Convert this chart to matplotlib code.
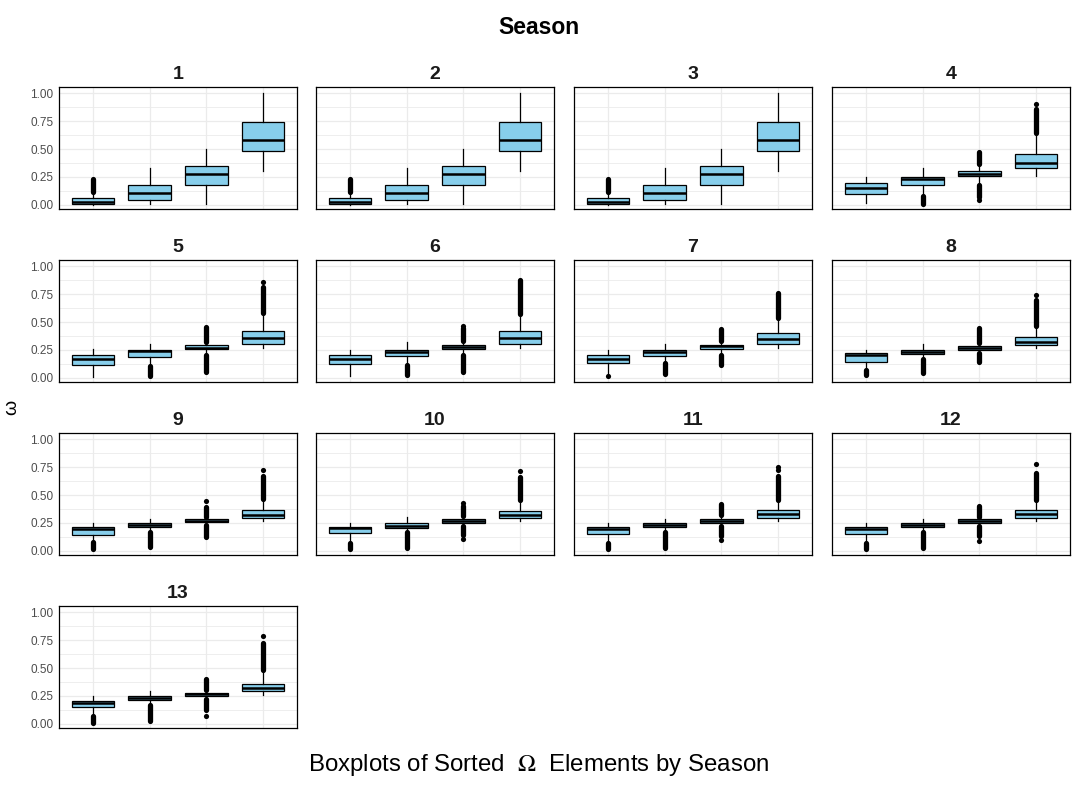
import matplotlib
matplotlib.use('Agg')
import matplotlib.pyplot as plt
from matplotlib.ticker import MultipleLocator, FormatStrFormatter

plt.rcParams['font.family'] = ['Liberation Sans', 'DejaVu Sans']
plt.rcParams['mathtext.fontset'] = 'stix'

W, H = 1078, 789

seasons = [str(i) for i in range(1, 14)]
y_ticks = [0.0, 0.25, 0.5, 0.75, 1.0]

# box stats per season, 4 sorted elements each
q1 = [
    [0.006, 0.042, 0.176, 0.482],
    [0.006, 0.042, 0.176, 0.482],
    [0.006, 0.042, 0.176, 0.482],
    [0.095, 0.176, 0.256, 0.327],
    [0.113, 0.185, 0.256, 0.300],
    [0.122, 0.193, 0.256, 0.300],
    [0.130, 0.193, 0.256, 0.300],
    [0.146, 0.211, 0.253, 0.292],
    [0.146, 0.211, 0.256, 0.292],
    [0.158, 0.208, 0.253, 0.292],
    [0.149, 0.211, 0.253, 0.292],
    [0.149, 0.211, 0.253, 0.292],
    [0.149, 0.214, 0.247, 0.292],
]
med = [
    [0.030, 0.110, 0.280, 0.583],
    [0.030, 0.110, 0.280, 0.583],
    [0.030, 0.110, 0.280, 0.583],
    [0.155, 0.229, 0.280, 0.378],
    [0.170, 0.238, 0.265, 0.354],
    [0.173, 0.235, 0.280, 0.354],
    [0.173, 0.235, 0.283, 0.351],
    [0.202, 0.232, 0.268, 0.324],
    [0.200, 0.229, 0.268, 0.324],
    [0.202, 0.223, 0.268, 0.324],
    [0.200, 0.229, 0.268, 0.327],
    [0.200, 0.229, 0.268, 0.327],
    [0.188, 0.232, 0.265, 0.324],
]
q3 = [
    [0.060, 0.176, 0.345, 0.741],
    [0.060, 0.176, 0.345, 0.741],
    [0.060, 0.176, 0.345, 0.741],
    [0.193, 0.247, 0.300, 0.452],
    [0.205, 0.247, 0.295, 0.417],
    [0.205, 0.250, 0.295, 0.417],
    [0.205, 0.247, 0.295, 0.400],
    [0.220, 0.247, 0.283, 0.363],
    [0.211, 0.247, 0.283, 0.363],
    [0.211, 0.247, 0.283, 0.354],
    [0.211, 0.247, 0.283, 0.363],
    [0.211, 0.247, 0.283, 0.363],
    [0.208, 0.247, 0.274, 0.360],
]
wlo = [
    [0.000, 0.010, 0.010, 0.307],
    [0.000, 0.010, 0.010, 0.307],
    [0.000, 0.010, 0.010, 0.307],
    [0.020, 0.090, 0.190, 0.262],
    [0.012, 0.116, 0.214, 0.265],
    [0.020, 0.125, 0.214, 0.265],
    [0.036, 0.146, 0.216, 0.265],
    [0.077, 0.175, 0.235, 0.265],
    [0.080, 0.175, 0.235, 0.265],
    [0.080, 0.175, 0.235, 0.265],
    [0.080, 0.175, 0.235, 0.265],
    [0.080, 0.175, 0.235, 0.265],
    [0.080, 0.175, 0.230, 0.262],
]
whi = [
    [0.104, 0.333, 0.503, 1.000],
    [0.104, 0.333, 0.503, 1.000],
    [0.104, 0.333, 0.503, 1.000],
    [0.250, 0.327, 0.350, 0.634],
    [0.256, 0.300, 0.318, 0.577],
    [0.250, 0.321, 0.318, 0.568],
    [0.247, 0.300, 0.318, 0.533],
    [0.247, 0.300, 0.310, 0.458],
    [0.247, 0.290, 0.300, 0.458],
    [0.247, 0.300, 0.305, 0.449],
    [0.247, 0.290, 0.310, 0.455],
    [0.247, 0.290, 0.300, 0.455],
    [0.247, 0.292, 0.300, 0.482],
]
# dense outlier runs (lo, hi) and single outliers
out_bands = [
    [[(0.12, 0.235)], [], [], []],
    [[(0.12, 0.235)], [], [], []],
    [[(0.12, 0.235)], [], [], []],
    [[], [(0.01, 0.08)], [(0.366, 0.476), (0.07, 0.176)], [(0.64, 0.854)]],
    [[], [(0.015, 0.11)], [(0.324, 0.458), (0.05, 0.205)], [(0.583, 0.815)]],
    [[], [(0.027, 0.116)], [(0.33, 0.443), (0.05, 0.205)], [(0.575, 0.875)]],
    [[], [(0.036, 0.137)], [(0.33, 0.44), (0.116, 0.205)], [(0.539, 0.762)]],
    [[(0.027, 0.07)], [(0.042, 0.17)], [(0.315, 0.443), (0.14, 0.226)], [(0.462, 0.696)]],
    [[(0.015, 0.077)], [(0.033, 0.17)], [(0.306, 0.396), (0.125, 0.229)], [(0.462, 0.673)]],
    [[(0.015, 0.074)], [(0.027, 0.17)], [(0.31, 0.40), (0.146, 0.226)], [(0.453, 0.66)]],
    [[(0.015, 0.074)], [(0.027, 0.17)], [(0.318, 0.42), (0.13, 0.226)], [(0.458, 0.667)]],
    [[(0.02, 0.07)], [(0.03, 0.17)], [(0.305, 0.40), (0.13, 0.226)], [(0.458, 0.70)]],
    [[(0.012, 0.074)], [(0.03, 0.17)], [(0.30, 0.40), (0.125, 0.226)], [(0.485, 0.72)]],
]
out_pts = [
    [[], [], [], []],
    [[], [], [], []],
    [[], [], [], []],
    [[], [], [0.048], [0.902]],
    [[], [], [], [0.86]],
    [[], [], [0.467], []],
    [[0.015], [], [], []],
    [[], [], [], [0.741]],
    [[], [], [0.446], [0.72]],
    [[], [], [0.43, 0.11], [0.717]],
    [[], [], [0.095], [0.72, 0.75]],
    [[], [], [0.09], [0.78]],
    [[], [], [0.071], [0.783]],
]

fill = '#87CEEB'
lefts = [59, 316, 574, 832]
tops = [87, 260, 433, 606]
pw, ph = 238, 122

fig = plt.figure(figsize=(W / 100, H / 100), dpi=100)

for i, name in enumerate(seasons):
    r, c = divmod(i, 4)
    ax = fig.add_axes([lefts[c] / W, 1 - (tops[r] + ph) / H, pw / W, ph / H])
    stats = []
    for j in range(4):
        stats.append({'med': med[i][j], 'q1': q1[i][j], 'q3': q3[i][j],
                      'whislo': wlo[i][j], 'whishi': whi[i][j], 'fliers': []})
    ax.bxp(stats, positions=[1, 2, 3, 4], widths=0.75, patch_artist=True,
           showcaps=False, showfliers=False,
           boxprops=dict(facecolor=fill, edgecolor='black', linewidth=0.9),
           whiskerprops=dict(color='black', linewidth=0.9),
           medianprops=dict(color='black', linewidth=1.8, solid_capstyle='butt'),
           zorder=3)
    for j in range(4):
        for lo, hi in out_bands[i][j]:
            ax.vlines(j + 1, lo, hi, color='black', linewidth=3.8,
                      capstyle='round', zorder=4)
        if out_pts[i][j]:
            ax.scatter([j + 1] * len(out_pts[i][j]), out_pts[i][j], s=14,
                       color='black', linewidths=0, zorder=4)

    ax.set_xlim(0.4, 4.6)
    ax.set_ylim(-0.036, 1.054)
    ax.set_xticks([1, 2, 3, 4])
    ax.set_xticklabels([])
    ax.set_yticks(y_ticks)
    ax.yaxis.set_major_formatter(FormatStrFormatter('%.2f'))
    ax.yaxis.set_minor_locator(MultipleLocator(0.125))
    ax.grid(True, which='major', color='#ebebeb', linewidth=0.9, zorder=0)
    ax.grid(True, which='minor', axis='y', color='#ebebeb', linewidth=0.6, zorder=0)
    ax.set_axisbelow(True)
    ax.tick_params(length=0, which='both')
    ax.tick_params(axis='y', labelsize=8.5, labelcolor='#4d4d4d', pad=4)
    if c != 0:
        ax.set_yticklabels([])
    for s in ax.spines.values():
        s.set_linewidth(0.9)
        s.set_color('black')
    ax.set_title(name, fontsize=14, fontweight='bold', color='#1a1a1a', pad=5.5)

fig.text(539 / W, 1 - 27 / H, 'Season', ha='center', va='center',
         fontsize=16.5, fontweight='bold')
fig.text(12 / W, 1 - 407 / H, 'ω', ha='center', va='center', rotation=90,
         fontsize=14)
fig.text(539 / W, 1 - 765 / H, r'Boxplots of Sorted  $\Omega$  Elements by Season',
         ha='center', va='center', fontsize=17.3)

fig.savefig('out.png', dpi=100)
